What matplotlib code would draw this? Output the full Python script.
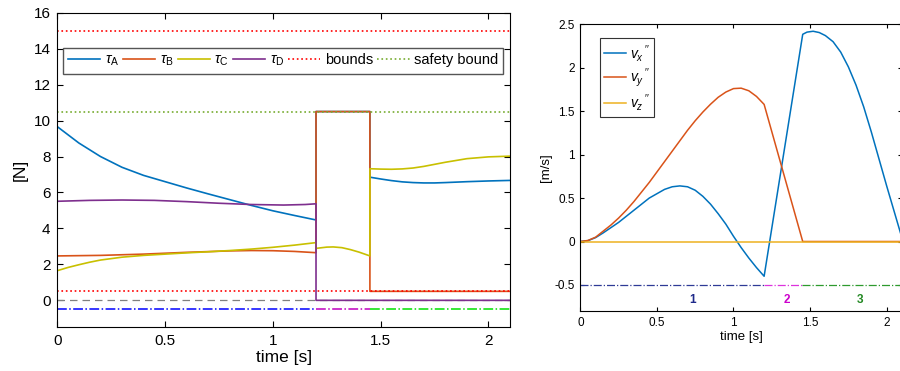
import numpy as np
import matplotlib.pyplot as plt

plt.rcParams['font.family'] = ['Liberation Sans', 'DejaVu Sans']
plt.rcParams['mathtext.fontset'] = 'custom'
plt.rcParams['mathtext.it'] = 'Liberation Sans:italic'
plt.rcParams['mathtext.rm'] = 'Liberation Sans'

# ---- left panel: rotor thrust [N] ----
tA = [0, 0.1, 0.2, 0.3, 0.4, 0.5, 0.6, 0.7, 0.8, 0.9, 1.0, 1.1, 1.2, 1.2, 1.45,
      1.45, 1.5, 1.55, 1.6, 1.65, 1.7, 1.75, 1.8, 1.9, 2.0, 2.1]
fA = [9.66, 8.75, 8.0, 7.4, 6.95, 6.6, 6.25, 5.92, 5.6, 5.28, 4.98, 4.72, 4.47, 10.5, 10.5,
      6.85, 6.75, 6.66, 6.59, 6.55, 6.53, 6.53, 6.55, 6.6, 6.64, 6.67]

tB = [0, 0.2, 0.4, 0.6, 0.8, 0.9, 1.0, 1.1, 1.2, 1.2, 1.45, 1.45, 2.1]
fB = [2.47, 2.5, 2.57, 2.67, 2.75, 2.77, 2.76, 2.72, 2.65, 10.5, 10.5, 0.5, 0.5]

tC = [0, 0.05, 0.1, 0.15, 0.2, 0.3, 0.4, 0.5, 0.6, 0.7, 0.8, 0.9, 1.0, 1.1, 1.2,
      1.2, 1.25, 1.28, 1.32, 1.36, 1.4, 1.45,
      1.45, 1.5, 1.55, 1.6, 1.65, 1.7, 1.8, 1.9, 2.0, 2.1]
fC = [1.65, 1.83, 1.98, 2.12, 2.24, 2.4, 2.5, 2.57, 2.64, 2.7, 2.77, 2.85, 2.95, 3.07, 3.21,
      2.89, 2.96, 2.97, 2.93, 2.82, 2.68, 2.47,
      7.32, 7.3, 7.29, 7.31, 7.36, 7.45, 7.68, 7.88, 7.98, 8.02]

tD = [0, 0.15, 0.3, 0.45, 0.6, 0.75, 0.9, 1.05, 1.15, 1.2, 1.2, 2.1]
fD = [5.51, 5.56, 5.58, 5.56, 5.49, 5.4, 5.33, 5.30, 5.33, 5.37, 0, 0]

bounds = [0.5, 15]
safety = 10.5
phase_edges = [0, 1.2, 1.45, 2.1]

# ---- right panel: velocities [m/s] ----
tvx = [0, 0.05, 0.1, 0.15, 0.2, 0.25, 0.3, 0.35, 0.4, 0.45, 0.5, 0.55, 0.6, 0.65, 0.7,
       0.75, 0.8, 0.85, 0.9, 0.95, 1.0, 1.05, 1.1, 1.15, 1.2,
       1.452, 1.48, 1.52, 1.56, 1.6, 1.65, 1.7, 1.75, 1.8, 1.85, 1.9, 1.95, 2.0, 2.05, 2.1]
vx = [0, 0.01, 0.045, 0.1, 0.16, 0.22, 0.29, 0.36, 0.43, 0.5, 0.55, 0.6, 0.63, 0.64, 0.63,
      0.59, 0.52, 0.43, 0.32, 0.2, 0.06, -0.07, -0.19, -0.3, -0.40,
      2.385, 2.41, 2.42, 2.405, 2.37, 2.3, 2.18, 2.01, 1.8, 1.55, 1.26, 0.95, 0.64, 0.34, 0.04]

tvy = [0, 0.05, 0.1, 0.15, 0.2, 0.25, 0.3, 0.35, 0.4, 0.45, 0.5, 0.55, 0.6, 0.65, 0.7,
       0.75, 0.8, 0.85, 0.9, 0.95, 1.0, 1.05, 1.1, 1.15, 1.2, 1.452, 2.1]
vy = [0, 0.012, 0.05, 0.12, 0.19, 0.27, 0.36, 0.46, 0.57, 0.68, 0.8, 0.92, 1.04, 1.16, 1.28,
      1.39, 1.49, 1.58, 1.66, 1.72, 1.76, 1.765, 1.735, 1.67, 1.578, 0, 0]

tvz = [0, 2.1]
vz = [0, 0]

phase_names = ['1', '2', '3']
phase_label_t = [0.735, 1.347, 1.826]

fig = plt.figure(figsize=(9, 3.71), dpi=100)

# left axes
ax = fig.add_axes([0.0637, 0.1178, 0.503, 0.848])
ax.axhline(0, color='gray', ls='--', lw=0.9, dashes=(6, 4))
ax.plot(phase_edges[0:2], [-0.5, -0.5], color='b', ls='-.', lw=1.1)
ax.plot(phase_edges[1:3], [-0.5, -0.5], color='m', ls='-.', lw=1.1)
ax.plot(phase_edges[2:4], [-0.5, -0.5], color='#00e000', ls='-.', lw=1.1)
ax.plot(tA, fA, color='#0072BD', lw=1.2, label=r'$\tau_\mathrm{A}$')
ax.plot(tB, fB, color='#D95319', lw=1.2, label=r'$\tau_\mathrm{B}$')
ax.plot(tC, fC, color='#C8C000', lw=1.2, label=r'$\tau_\mathrm{C}$')
ax.plot(tD, fD, color='#7E2F8E', lw=1.2, label=r'$\tau_\mathrm{D}$')
ax.plot([0, 2.1], [bounds[1]] * 2, color='r', ls=':', lw=1.2, label='bounds')
ax.plot([0, 2.1], [bounds[0]] * 2, color='r', ls=':', lw=1.2)
ax.plot([0, 2.1], [safety] * 2, color='#77AC30', ls=':', lw=1.2, label='safety bound')

ax.set_xlim(0, 2.1)
ax.set_ylim(-1.5, 16)
ax.set_xticks([0, 0.5, 1, 1.5, 2])
ax.set_xticklabels(['0', '0.5', '1', '1.5', '2'])
ax.set_yticks(range(0, 17, 2))
ax.tick_params(direction='in', top=True, right=True, labelsize=11, length=4, pad=5)
ax.set_xlabel('time [s]', fontsize=12.5, labelpad=1)
ax.set_ylabel('[N]', fontsize=12.5, labelpad=4)
leg = ax.legend(ncol=6, loc='upper left', bbox_to_anchor=(0.0126, 0.888), borderaxespad=0,
                fontsize=10.5, handlelength=2.2, handletextpad=0.3, columnspacing=0.3,
                fancybox=False, framealpha=1, edgecolor='#555555', borderpad=0.35)
leg.get_frame().set_linewidth(1.0)

# right axes
ax2 = fig.add_axes([0.6448, 0.1617, 0.3574, 0.7728])
ax2.plot(phase_edges[0:2], [-0.5, -0.5], color='#2e3a96', ls='-.', lw=0.9)
ax2.plot(phase_edges[1:3], [-0.5, -0.5], color='#dd33dd', ls='-.', lw=0.9)
ax2.plot(phase_edges[2:4], [-0.5, -0.5], color='#2e9a2e', ls='-.', lw=0.9)
ax2.plot(tvx, vx, color='#0072BD', lw=1.1, label=r"$v_x\,''$")
ax2.plot(tvy, vy, color='#D95319', lw=1.1, label=r"$v_y\,''$")
ax2.plot(tvz, vz, color='#EDB120', lw=1.1, label=r"$v_z\,''$")
label_colors = ['#1f2a8a', '#cc00cc', '#228822']
for name, tl, c in zip(phase_names, phase_label_t, label_colors):
    ax2.text(tl, -0.67, name, color=c, fontsize=8.5, fontweight='bold', ha='center', va='center')

ax2.set_xlim(0, 2.1)
ax2.set_ylim(-0.8, 2.5)
ax2.set_xticks([0, 0.5, 1, 1.5, 2])
ax2.set_xticklabels(['0', '0.5', '1', '1.5', '2'])
ax2.set_yticks([-0.5, 0, 0.5, 1, 1.5, 2, 2.5])
ax2.set_yticklabels(['-0.5', '0', '0.5', '1', '1.5', '2', '2.5'])
ax2.tick_params(direction='in', top=True, right=True, labelsize=8.5, length=3, pad=4)
ax2.set_xlabel('time [s]', fontsize=9.5, labelpad=2)
ax2.set_ylabel('[m/s]', fontsize=9.5, labelpad=2)
leg2 = ax2.legend(loc='upper left', bbox_to_anchor=(0.061, 0.951), borderaxespad=0,
                  fontsize=10, handlelength=1.6, handletextpad=0.3, labelspacing=0.2,
                  borderpad=0.3, fancybox=False, framealpha=1, edgecolor='#333333')
leg2.get_frame().set_linewidth(0.8)

fig.savefig('out.png', dpi=100)
